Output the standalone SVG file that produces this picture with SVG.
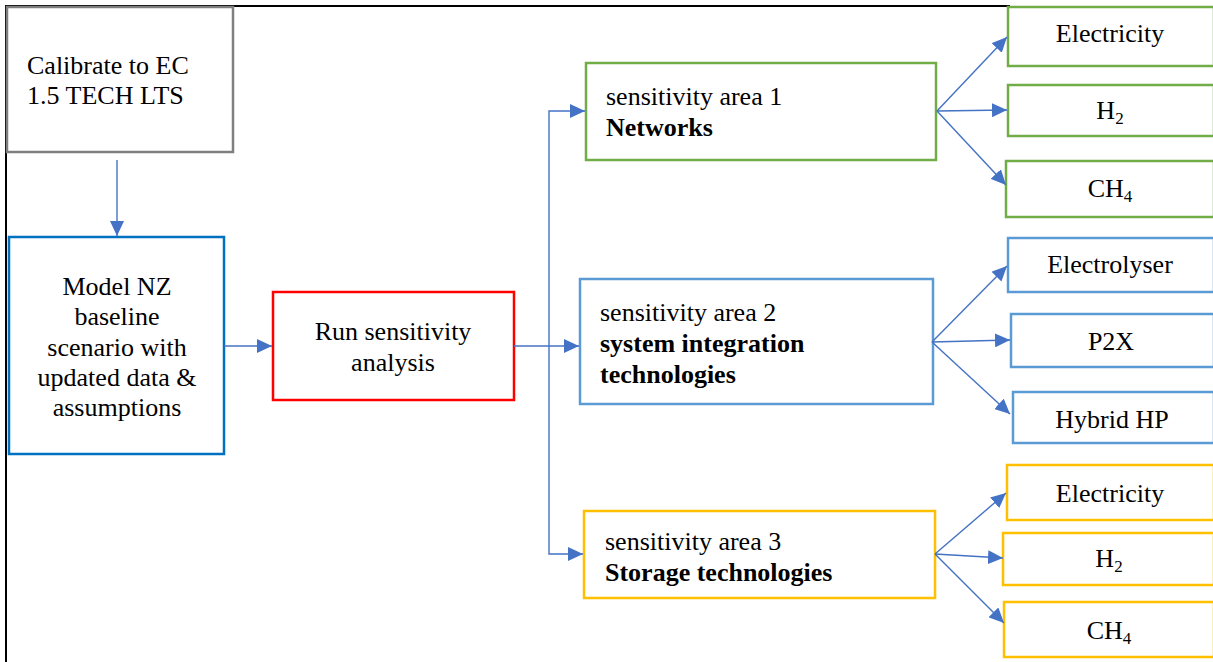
<svg xmlns="http://www.w3.org/2000/svg" width="1213" height="662" viewBox="0 0 1213 662">
<defs>
<marker id="ah" markerUnits="userSpaceOnUse" markerWidth="16" markerHeight="14" refX="15" refY="7" orient="auto">
<path d="M0,0 L15,7 L0,14 Z" fill="#4472c4"/>
</marker>
<style>
.t{font-family:"Liberation Serif","Times New Roman",serif;font-size:26px;fill:#000}
.b{font-weight:bold}
.m{text-anchor:middle}
.box{fill:#fff;stroke-width:2.5}
.c{fill:none;stroke:#4472c4;stroke-width:1.4}
.sub{font-size:17px}
</style>
</defs>
<rect width="1213" height="662" fill="#fff"/>
<path d="M6,662 V6 H1010" fill="none" stroke="#000" stroke-width="2"/>

<g id="calibrate">
<rect class="box" x="7" y="7" width="226" height="145" stroke="#7f7f7f"/>
<text class="t" x="27" y="74">Calibrate to EC</text>
<text class="t" x="27" y="104">1.5 TECH LTS</text>
</g>

<g id="model">
<rect class="box" x="9" y="237" width="215" height="217" stroke="#0070c0"/>
<text class="t m" x="117" y="295">Model NZ</text>
<text class="t m" x="117" y="325">baseline</text>
<text class="t m" x="117" y="356">scenario with</text>
<text class="t m" x="117" y="386">updated data &amp;</text>
<text class="t m" x="117" y="416">assumptions</text>
</g>

<g id="run">
<rect class="box" x="273" y="292" width="241" height="108" stroke="#ff0000"/>
<text class="t m" x="393" y="340">Run sensitivity</text>
<text class="t m" x="393" y="371">analysis</text>
</g>

<g id="area1">
<rect class="box" x="586" y="63" width="350" height="97" stroke="#70ad47"/>
<text class="t" x="606" y="105">sensitivity area 1</text>
<text class="t b" x="606" y="136">Networks</text>
</g>

<g id="area2">
<rect class="box" x="580" y="279" width="353" height="125" stroke="#5b9bd5"/>
<text class="t" x="600" y="321">sensitivity area 2</text>
<text class="t b" x="600" y="352">system integration</text>
<text class="t b" x="600" y="383">technologies</text>
</g>

<g id="area3">
<rect class="box" x="584" y="511" width="351" height="87" stroke="#ffc000"/>
<text class="t" x="605" y="550">sensitivity area 3</text>
<text class="t b" x="605" y="581">Storage technologies</text>
</g>

<g id="n1-elec">
<rect class="box" x="1008" y="7" width="206" height="59" stroke="#70ad47"/>
<text class="t m" x="1110" y="42">Electricity</text>
</g>
<g id="n1-h2">
<rect class="box" x="1008" y="85" width="206" height="51" stroke="#70ad47"/>
<text class="t m" x="1110" y="119">H<tspan class="sub" dy="5">2</tspan></text>
</g>
<g id="n1-ch4">
<rect class="box" x="1006" y="161" width="208" height="56" stroke="#70ad47"/>
<text class="t m" x="1110" y="197">CH<tspan class="sub" dy="5">4</tspan></text>
</g>

<g id="n2-electrolyser">
<rect class="box" x="1008" y="238" width="206" height="54" stroke="#5b9bd5"/>
<text class="t m" x="1110" y="273">Electrolyser</text>
</g>
<g id="n2-p2x">
<rect class="box" x="1011" y="314" width="203" height="53" stroke="#5b9bd5"/>
<text class="t m" x="1111" y="350">P2X</text>
</g>
<g id="n2-hybrid">
<rect class="box" x="1013" y="392" width="201" height="51" stroke="#5b9bd5"/>
<text class="t m" x="1112" y="428">Hybrid HP</text>
</g>

<g id="n3-elec">
<rect class="box" x="1007" y="465" width="207" height="55" stroke="#ffc000"/>
<text class="t m" x="1110" y="502">Electricity</text>
</g>
<g id="n3-h2">
<rect class="box" x="1003" y="533" width="211" height="52" stroke="#ffc000"/>
<text class="t m" x="1109" y="567">H<tspan class="sub" dy="5">2</tspan></text>
</g>
<g id="n3-ch4">
<rect class="box" x="1004" y="602" width="210" height="55" stroke="#ffc000"/>
<text class="t m" x="1109" y="639">CH<tspan class="sub" dy="5">4</tspan></text>
</g>

<g id="connectors">
<path class="c" d="M117,160 V236" marker-end="url(#ah)"/>
<path class="c" d="M224,346 H272" marker-end="url(#ah)"/>
<path class="c" d="M514,346 H579" marker-end="url(#ah)"/>
<path class="c" d="M549,346 V111 H585" marker-end="url(#ah)"/>
<path class="c" d="M549,346 V554 H583" marker-end="url(#ah)"/>
<path class="c" d="M937,111 L1007,37" marker-end="url(#ah)"/>
<path class="c" d="M937,111 L1007,110" marker-end="url(#ah)"/>
<path class="c" d="M937,111 L1006,185" marker-end="url(#ah)"/>
<path class="c" d="M932,342 L1007,266" marker-end="url(#ah)"/>
<path class="c" d="M932,342 L1010,340" marker-end="url(#ah)"/>
<path class="c" d="M932,342 L1010,414" marker-end="url(#ah)"/>
<path class="c" d="M935,554 L1006,493" marker-end="url(#ah)"/>
<path class="c" d="M935,554 L1003,558" marker-end="url(#ah)"/>
<path class="c" d="M935,554 L1004,623" marker-end="url(#ah)"/>
</g>
</svg>
